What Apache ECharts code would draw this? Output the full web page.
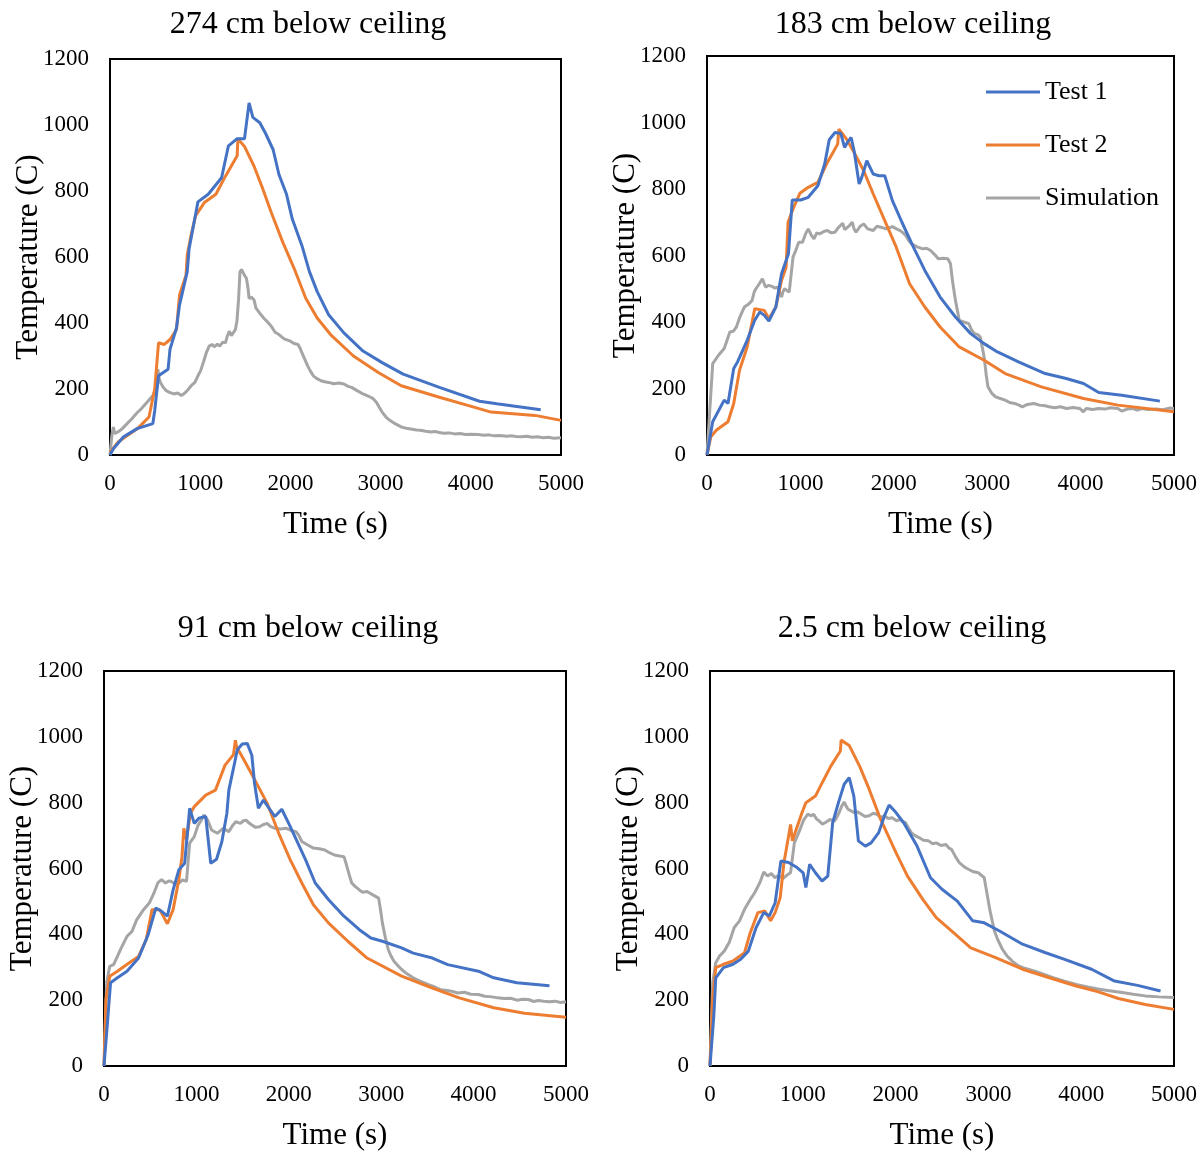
<!DOCTYPE html>
<html>
<head>
<meta charset="utf-8">
<script src="https://cdn.jsdelivr.net/npm/echarts@6/dist/echarts.min.js"></script>
<style>
  html, body { margin: 0; padding: 0; background: #fff; }
  #chart { width: 1202px; height: 1152px; }
</style>
</head>
<body>
<div id="chart"></div>
<script>
// Panel titles (thermocouple depth)
const panelTitles = ['274 cm below ceiling', '183 cm below ceiling', '91 cm below ceiling', '2.5 cm below ceiling'];
const seriesNames = ['Test 1', 'Test 2', 'Simulation'];
const xTicks = [0, 1000, 2000, 3000, 4000, 5000];
const yTicks = [0, 200, 400, 600, 800, 1000, 1200];

// ---- 274 cm below ceiling: [time (s), temperature (C)]
const d274_test1 = [[0,0],[40,20],[150,55],[300,80],[475,95],[496,135],[538,240],[644,260],[665,320],[737,385],[771,455],[856,555],[877,625],[975,767],[1089,790],[1237,840],[1313,937],[1407,958],[1491,958],[1542,1067],[1584,1023],[1661,1007],[1724,975],[1809,925],[1873,850],[1957,790],[2021,715],[2127,635],[2212,555],[2297,495],[2424,425],[2593,370],[2805,315],[3017,280],[3250,245],[3652,205],[4097,163],[4288,155],[4775,137]];
const d274_test2 = [[0,8],[93,40],[305,80],[432,115],[496,200],[538,340],[602,335],[665,350],[737,380],[771,485],[843,545],[856,605],[898,665],[949,725],[1046,765],[1174,790],[1280,845],[1410,907],[1418,958],[1491,935],[1597,875],[1682,815],[1788,735],[1915,645],[2042,565],[2170,475],[2297,415],[2445,365],[2699,300],[2974,250],[3229,210],[3652,175],[4034,145],[4224,130],[4712,120],[5000,105]];
const d274_sim = [[0,0],[21,60],[38,85],[51,65],[100,72],[136,80],[190,95],[242,110],[300,128],[347,140],[411,160],[475,180],[517,205],[530,260],[545,232],[559,220],[590,205],[623,195],[660,190],[708,185],[750,188],[792,180],[830,188],[856,195],[900,210],[941,220],[975,240],[1004,255],[1040,285],[1068,310],[1100,330],[1131,335],[1160,328],[1190,336],[1216,330],[1250,342],[1280,340],[1300,360],[1322,375],[1345,362],[1364,365],[1390,380],[1407,405],[1425,470],[1441,555],[1458,562],[1490,545],[1513,535],[1530,505],[1542,475],[1570,478],[1597,470],[1618,445],[1660,430],[1703,415],[1740,405],[1788,390],[1830,372],[1873,365],[1930,352],[2000,345],[2040,338],[2085,335],[2110,322],[2127,310],[2160,290],[2191,270],[2220,255],[2254,240],[2290,232],[2339,225],[2380,222],[2424,220],[2480,216],[2540,218],[2593,215],[2640,208],[2678,205],[2740,195],[2805,185],[2850,180],[2890,175],[2920,170],[2953,160],[2985,145],[3017,130],[3060,115],[3102,105],[3160,95],[3229,85],[3300,80],[3350,78],[3400,76],[3441,75],[3500,72],[3560,70],[3600,71],[3652,68],[3700,66],[3760,67],[3820,64],[3880,65],[3940,62],[4000,63],[4076,62],[4150,60],[4200,61],[4260,58],[4320,59],[4400,57],[4460,58],[4500,56],[4560,55],[4620,57],[4680,54],[4740,55],[4800,52],[4860,54],[4920,51],[5000,52]];

// ---- 183 cm below ceiling
const d183_test1 = [[0,0],[61,100],[184,165],[225,155],[245,160],[286,260],[327,280],[430,345],[511,405],[565,430],[614,420],[663,403],[737,445],[798,545],[872,605],[913,767],[1003,767],[1084,775],[1187,810],[1260,875],[1309,948],[1371,970],[1432,967],[1473,925],[1503,940],[1543,955],[1575,915],[1629,815],[1657,835],[1711,885],[1780,845],[1841,840],[1903,840],[1985,765],[2087,700],[2210,625],[2332,555],[2496,475],[2660,415],[2823,365],[2967,335],[3110,310],[3335,280],[3621,245],[3846,230],[4031,215],[4194,188],[4440,180],[4849,162]];
const d183_test2 = [[0,0],[41,55],[102,75],[225,100],[286,155],[348,255],[430,325],[511,440],[614,435],[663,410],[737,445],[798,525],[847,565],[868,700],[921,740],[994,787],[1084,805],[1187,820],[1289,880],[1399,935],[1412,980],[1494,950],[1575,910],[1678,855],[1780,785],[1903,705],[2026,625],[2169,515],[2332,445],[2496,385],[2701,325],[2967,285],[3192,245],[3580,205],[4031,170],[4399,150],[5000,130]];
const d183_sim = [[0,0],[61,275],[123,300],[184,320],[245,370],[280,372],[315,385],[345,410],[368,425],[400,445],[421,450],[450,455],[483,465],[505,490],[524,500],[560,515],[593,530],[626,505],[660,510],[696,507],[730,502],[757,505],[780,488],[798,475],[815,492],[831,500],[855,495],[880,490],[900,540],[921,595],[950,615],[982,640],[1023,640],[1055,665],[1084,680],[1115,662],[1146,650],[1175,668],[1207,665],[1250,672],[1289,675],[1330,668],[1371,670],[1410,685],[1453,697],[1475,678],[1494,675],[1525,690],[1555,700],[1575,680],[1596,670],[1640,688],[1678,695],[1720,680],[1780,675],[1820,688],[1862,685],[1920,680],[1985,687],[2030,680],[2067,675],[2100,668],[2128,660],[2160,645],[2189,635],[2250,626],[2312,620],[2350,622],[2394,615],[2440,602],[2476,590],[2530,592],[2578,590],[2607,575],[2630,520],[2660,465],[2701,405],[2750,400],[2803,395],[2835,375],[2864,365],[2900,362],[2926,355],[2950,320],[2967,295],[2990,240],[3008,205],[3050,185],[3090,175],[3140,170],[3192,165],[3240,158],[3294,155],[3340,150],[3376,145],[3430,152],[3499,155],[3560,150],[3620,148],[3662,145],[3720,142],[3785,145],[3850,140],[3920,143],[3990,140],[4030,130],[4060,140],[4130,137],[4194,140],[4260,138],[4320,142],[4399,140],[4440,132],[4500,138],[4560,140],[4604,135],[4660,140],[4720,137],[4808,138],[4880,136],[4950,141],[5000,140]];

// ---- 91 cm below ceiling
const d91_test1 = [[0,0],[29,101],[71,253],[145,268],[249,288],[374,328],[478,399],[561,480],[623,470],[686,455],[748,535],[810,596],[873,616],[927,783],[977,737],[1027,753],[1101,758],[1155,616],[1218,628],[1276,682],[1330,768],[1351,838],[1401,904],[1442,960],[1496,978],[1550,980],[1600,944],[1629,859],[1671,783],[1725,808],[1849,758],[1924,780],[2016,727],[2182,626],[2286,556],[2431,505],[2597,455],[2764,414],[2888,389],[3013,379],[3221,359],[3346,343],[3554,328],[3720,308],[4052,288],[4218,268],[4468,253],[4821,244]];
const d91_test2 = [[0,0],[21,202],[62,273],[145,288],[270,313],[374,333],[457,384],[520,475],[603,475],[686,432],[748,475],[810,566],[844,636],[864,722],[893,687],[935,768],[977,788],[1101,823],[1206,838],[1310,914],[1401,946],[1422,990],[1434,970],[1517,929],[1642,864],[1766,798],[1891,707],[2016,626],[2141,556],[2266,490],[2431,434],[2639,379],[2847,328],[3221,273],[3554,237],[3845,207],[4218,177],[4551,160],[5000,148]];
const d91_sim = [[0,0],[29,253],[62,303],[104,308],[145,333],[187,359],[249,394],[303,409],[353,444],[428,475],[490,495],[540,525],[582,556],[623,566],[665,556],[700,562],[727,561],[770,552],[810,556],[850,565],[893,561],[910,620],[927,677],[977,697],[1019,732],[1050,745],[1081,763],[1122,747],[1164,717],[1226,707],[1260,715],[1289,722],[1351,712],[1390,730],[1426,742],[1476,737],[1510,745],[1538,747],[1570,738],[1600,732],[1640,725],[1683,727],[1720,733],[1766,737],[1800,728],[1849,722],[1910,720],[1974,722],[2030,715],[2078,712],[2110,700],[2141,682],[2200,672],[2266,662],[2330,660],[2390,656],[2440,648],[2494,641],[2550,638],[2597,636],[2620,615],[2639,596],[2660,575],[2681,556],[2720,545],[2764,535],[2800,528],[2847,530],[2910,520],[2972,510],[2995,470],[3013,434],[3045,390],[3076,354],[3105,335],[3138,318],[3180,305],[3221,293],[3280,280],[3346,268],[3420,258],[3512,247],[3580,240],[3640,232],[3700,230],[3761,227],[3830,222],[3900,224],[3970,218],[4052,217],[4120,212],[4200,210],[4260,207],[4330,205],[4400,206],[4470,200],[4530,203],[4593,202],[4650,196],[4700,199],[4759,197],[4820,195],[4880,197],[4940,193],[5000,195]];

// ---- 2.5 cm below ceiling
const d25_test1 = [[0,0],[41,152],[62,268],[145,299],[248,309],[331,324],[413,349],[496,420],[579,466],[640,456],[702,496],[764,623],[847,618],[938,603],[1004,587],[1033,542],[1074,613],[1136,587],[1207,562],[1269,577],[1322,739],[1384,800],[1446,856],[1500,876],[1550,820],[1599,684],[1674,668],[1736,678],[1818,709],[1880,760],[1930,793],[2004,770],[2087,739],[2231,668],[2376,572],[2500,537],[2665,501],[2831,441],[2955,435],[3120,410],[3368,370],[3616,344],[3822,324],[4112,294],[4359,258],[4607,245],[4855,228]];
const d25_test2 = [[0,0],[29,203],[62,299],[145,309],[248,319],[372,344],[434,405],[516,466],[591,471],[653,441],[702,466],[756,511],[797,618],[847,699],[868,734],[888,684],[930,719],[992,770],[1033,800],[1136,820],[1219,866],[1302,911],[1405,957],[1413,990],[1500,974],[1612,911],[1715,841],[1839,749],[2004,648],[2128,577],[2293,506],[2438,451],[2624,405],[2810,359],[3078,329],[3368,294],[3657,268],[3946,243],[4153,228],[4401,205],[4690,187],[5000,172]];
const d25_sim = [[0,0],[29,253],[62,314],[103,334],[153,349],[207,375],[260,420],[318,441],[372,476],[434,506],[483,527],[537,557],[579,589],[620,577],[661,585],[700,572],[723,577],[760,575],[785,569],[830,580],[868,587],[909,678],[971,719],[1010,748],[1054,765],[1090,760],[1116,765],[1150,750],[1178,744],[1210,735],[1240,739],[1293,749],[1343,744],[1370,758],[1392,770],[1420,790],[1446,802],[1470,788],[1488,780],[1520,775],[1550,770],[1590,772],[1632,765],[1670,758],[1715,760],[1760,768],[1797,765],[1840,755],[1880,760],[1920,752],[1963,754],[2010,745],[2045,749],[2080,742],[2107,739],[2140,722],[2169,709],[2210,700],[2252,694],[2300,686],[2355,684],[2400,675],[2438,678],[2490,670],[2541,673],[2575,662],[2603,658],[2645,636],[2686,618],[2740,605],[2789,597],[2840,590],[2893,587],[2930,578],[2955,572],[2975,540],[2996,506],[3015,475],[3037,446],[3065,410],[3099,385],[3150,355],[3202,334],[3260,318],[3326,304],[3400,296],[3492,289],[3600,278],[3698,268],[3820,258],[3946,248],[4070,240],[4194,233],[4320,228],[4442,223],[4560,218],[4690,213],[4840,210],[5000,208]];

const panelData = [
  [d274_test1, d274_test2, d274_sim],
  [d183_test1, d183_test2, d183_sim],
  [d91_test1, d91_test2, d91_sim],
  [d25_test1, d25_test2, d25_sim]
];

const FONT = "'Liberation Serif', 'Times New Roman', serif";
const colors = ['#4472C4', '#ED7D31', '#A5A5A5'];

// plot-area boxes for the four panels
const grids = [
  { left: 110, top: 59, width: 451, height: 396 },
  { left: 707, top: 56, width: 467, height: 399 },
  { left: 104, top: 671, width: 462, height: 396 },
  { left: 710, top: 671, width: 464, height: 396 }
];
const titlePos = [
  { x: 303, y: 4 },
  { x: 908, y: 4 },
  { x: 303, y: 608 },
  { x: 907, y: 608 }
];

const plainNumber = v => String(v);

const option = {
  animation: false,
  backgroundColor: '#fff',
  color: colors,
  title: panelTitles.map((t, i) => ({
    text: t,
    left: titlePos[i].x,
    top: titlePos[i].y,
    textAlign: 'center',
    textStyle: { fontFamily: FONT, fontSize: 32, fontWeight: 'normal', color: '#000' }
  })),
  legend: {
    data: seriesNames,
    orient: 'vertical',
    left: 981,
    top: 74,
    itemWidth: 54,
    itemHeight: 3,
    itemGap: 27,
    icon: 'rect',
    textStyle: { fontFamily: FONT, fontSize: 26, color: '#000', lineHeight: 26 }
  },
  grid: grids.map(g => Object.assign({ show: true, borderColor: '#000', borderWidth: 2, backgroundColor: 'transparent' }, g)),
  xAxis: grids.map((g, i) => ({
    type: 'value',
    gridIndex: i,
    min: xTicks[0],
    max: xTicks[xTicks.length - 1],
    interval: 1000,
    name: 'Time (s)',
    nameLocation: 'middle',
    nameGap: 54,
    nameMoveOverlap: false,
    nameTextStyle: { fontFamily: FONT, fontSize: 31, color: '#000' },
    axisLine: { show: true, lineStyle: { color: '#000', width: 2 } },
    axisTick: { show: false },
    splitLine: { show: false },
    axisLabel: { fontFamily: FONT, fontSize: 23, color: '#000', margin: 17, formatter: plainNumber }
  })),
  yAxis: grids.map((g, i) => ({
    type: 'value',
    gridIndex: i,
    min: yTicks[0],
    max: yTicks[yTicks.length - 1],
    interval: 200,
    name: 'Temperature (C)',
    nameLocation: 'middle',
    nameGap: 66,
    nameMoveOverlap: false,
    nameTextStyle: { fontFamily: FONT, fontSize: 31, color: '#000' },
    axisLine: { show: true, lineStyle: { color: '#000', width: 2 } },
    axisTick: { show: false },
    splitLine: { show: false },
    axisLabel: { fontFamily: FONT, fontSize: 23, color: '#000', margin: 21, formatter: plainNumber }
  })),
  series: []
};

panelData.forEach((sets, p) => {
  sets.forEach((data, k) => {
    option.series.push({
      name: seriesNames[k],
      type: 'line',
      xAxisIndex: p,
      yAxisIndex: p,
      data: data,
      showSymbol: false,
      symbol: 'none',
      lineStyle: { width: 3, color: colors[k] },
      itemStyle: { color: colors[k] },
      z: 3 - k
    });
  });
});

const chart = echarts.init(document.getElementById('chart'), null, { renderer: 'canvas' });
chart.setOption(option);
</script>
</body>
</html>
